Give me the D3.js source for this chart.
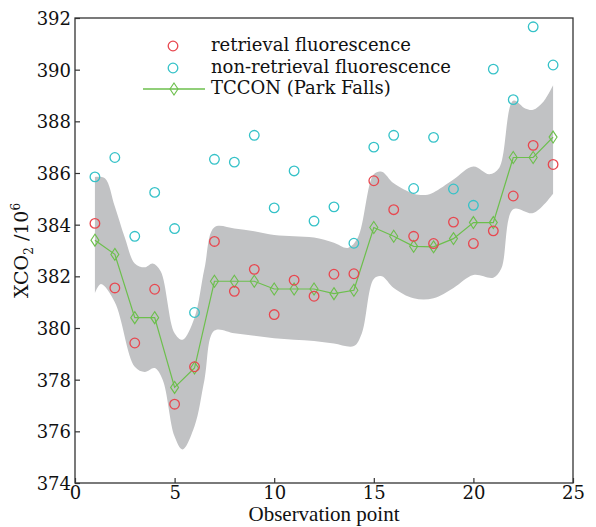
<!DOCTYPE html>
<html>
<head>
<meta charset="utf-8">
<script src="https://cdn.jsdelivr.net/npm/d3@7"></script>
<style>
  body { margin: 0; background: #fff; }
  svg text { font-family: "DejaVu Serif", "Liberation Serif", serif; fill: #111; }
  svg text.xtitle { font-family: "Liberation Serif", serif; }
</style>
</head>
<body>
<div id="chart"></div>
<script>
// observation points 1..24
var points = d3.range(1, 25);

var retrieval = [384.05, 381.55, 379.42, 381.5, 377.05, 378.5, 383.35, 381.42, 382.27, 380.52, 381.85, 381.23,
                 382.08, 382.1, 385.7, 384.58, 383.55, 383.27, 384.1, 383.27, 383.76, 385.11, 387.07, 386.33];

var nonRetrieval = [385.85, 386.6, 383.55, 385.25, 383.85, 380.6, 386.53, 386.42, 387.46, 384.65, 386.08, 384.14,
                    384.69, 383.28, 387.0, 387.46, 385.4, 387.38, 385.38, 384.75, 390.02, 388.84, 391.66, 390.18];

var tccon = [383.4, 382.85, 380.4, 380.4, 377.7, 378.45, 381.81, 381.81, 381.81, 381.51, 381.51, 381.51,
             381.33, 381.46, 383.89, 383.55, 383.16, 383.14, 383.46, 384.08, 384.08, 386.6, 386.6, 387.39];

// grey uncertainty band, edges
var bandX     = [1, 1.5, 2, 2.5, 3, 3.5, 3.9, 4.3, 5, 5.4, 6, 6.5, 7, 8, 9, 10, 11, 12, 13, 13.7, 14.2,
                 15, 15.4, 16, 17, 17.6, 18, 19, 20, 20.8, 21.3, 22, 22.6, 23, 23.5, 24];
var bandUpper = [385.85, 385.8, 384.7, 383.5, 382.5, 382.35, 382.5, 382.2, 379.8, 379.55, 380.4, 382.3, 383.9,
                 383.85, 383.75, 383.6, 383.55, 383.5, 383.3, 383.1, 383.5, 385.95, 386.05, 385.6, 385.2, 385.15,
                 385.25, 385.75, 386.25, 385.95, 386.2, 388.8, 388.5, 388.45, 388.75, 389.4];
var bandLowerX = [1, 1.3, 2, 3, 3.5, 4, 4.4, 5, 5.4, 6, 6.5, 7, 8, 9, 10, 11, 12, 13, 14, 14.4,
                  15, 15.4, 16, 17, 18, 19, 20, 21, 21.4, 22, 23, 24];
var bandLower = [381.35, 381.7, 381.0, 378.5, 378.3, 378.45, 378.0, 375.8, 375.3, 376.2, 378.0, 379.9,
                 379.8, 379.7, 379.6, 379.55, 379.5, 379.4, 379.3, 379.8, 381.9, 382.0, 381.55, 381.15,
                 381.15, 381.55, 382.05, 381.95, 382.3, 384.6, 384.45, 385.2];

var xTicks = [0, 5, 10, 15, 20, 25];
var yTicks = [374, 376, 378, 380, 382, 384, 386, 388, 390, 392];

var legendNames = ["retrieval fluorescence", "non-retrieval fluorescence", "TCCON (Park Falls)"];

var W = 596, H = 527;
var margin = { top: 18, right: 23, bottom: 44, left: 75 };
var width = W - margin.left - margin.right;
var height = H - margin.top - margin.bottom;

var red = "#e8474f", cyan = "#35c2c8", green = "#6cbf4c", grey = "#c1c2c4", axisCol = "#333";

var svg = d3.select("#chart").append("svg")
    .attr("width", W)
    .attr("height", H);

var g = svg.append("g")
    .attr("transform", `translate(${margin.left},${margin.top})`);

var x = d3.scaleLinear().domain([0, 25]).range([0, width]);
var y = d3.scaleLinear().domain([374, 392]).range([height, 0]);

// band: upper edge forward, lower edge backward
var upperPts = bandX.map((d, i) => [x(d), y(bandUpper[i])]);
var lowerPts = bandLowerX.map((d, i) => [x(d), y(bandLower[i])]);
var line = d3.line().curve(d3.curveCatmullRom.alpha(0.5));
var upperPath = line(upperPts);
var lowerPath = line(lowerPts.slice().reverse());
g.append("path")
    .attr("d", upperPath + "L" + lowerPath.slice(1) + "Z")
    .attr("fill", grey)
    .attr("stroke", "none");

// tccon line
g.append("path")
    .datum(tccon)
    .attr("fill", "none")
    .attr("stroke", green)
    .attr("stroke-width", 1.2)
    .attr("d", d3.line().x((d, i) => x(points[i])).y(d => y(d)));

function diamond(sel, cx, cy) {
    sel.append("path")
        .attr("d", `M${cx},${cy - 6}L${cx + 4},${cy}L${cx},${cy + 6}L${cx - 4},${cy}Z`)
        .attr("fill", "none")
        .attr("stroke", green)
        .attr("stroke-width", 1.1);
}
tccon.forEach((d, i) => diamond(g, x(points[i]), y(d)));

g.selectAll("circle.nr")
    .data(nonRetrieval)
    .enter().append("circle")
    .attr("class", "nr")
    .attr("cx", (d, i) => x(points[i]))
    .attr("cy", d => y(d))
    .attr("r", 4.8)
    .attr("fill", "none")
    .attr("stroke", cyan)
    .attr("stroke-width", 1.3);

g.selectAll("circle.rt")
    .data(retrieval)
    .enter().append("circle")
    .attr("class", "rt")
    .attr("cx", (d, i) => x(points[i]))
    .attr("cy", d => y(d))
    .attr("r", 4.8)
    .attr("fill", "none")
    .attr("stroke", red)
    .attr("stroke-width", 1.3);

// frame
g.append("rect")
    .attr("width", width)
    .attr("height", height)
    .attr("fill", "none")
    .attr("stroke", axisCol)
    .attr("stroke-width", 1.3);

var xAxis = g.append("g")
    .attr("transform", `translate(0,${height})`)
    .call(d3.axisBottom(x).tickValues(xTicks).tickSizeInner(-5).tickSizeOuter(0).tickPadding(3).tickFormat(d3.format("d")));
var yAxis = g.append("g")
    .call(d3.axisLeft(y).tickValues(yTicks).tickSizeInner(-5).tickSizeOuter(0).tickPadding(4).tickFormat(d3.format("d")));
[xAxis, yAxis].forEach(a => {
    a.select(".domain").remove();
    a.selectAll(".tick line").attr("stroke", axisCol).attr("stroke-width", 1.2);
    a.selectAll(".tick text").attr("font-size", 18).attr("fill", "#111");
});
xAxis.selectAll(".tick text").attr("dy", "0.72em");
yAxis.selectAll(".tick text").attr("dy", "0.36em");

// axis titles
svg.append("text")
    .attr("class", "xtitle")
    .attr("x", margin.left + width / 2)
    .attr("y", 521)
    .attr("text-anchor", "middle")
    .attr("font-size", 21)
    .text("Observation point");

var yl = svg.append("text")
    .attr("transform", `translate(28,${margin.top + height / 2}) rotate(-90)`)
    .attr("text-anchor", "middle")
    .attr("font-size", 19);
yl.append("tspan").text("XCO");
yl.append("tspan").attr("font-size", 12).attr("dy", 5).text("2");
yl.append("tspan").attr("dy", -5).text(" /10");
yl.append("tspan").attr("font-size", 12).attr("dy", -8).text("6");

// legend
var lg = svg.append("g");
var ly = [45, 67, 88];
lg.append("circle").attr("cx", 173).attr("cy", ly[0] + 1).attr("r", 4.8)
    .attr("fill", "none").attr("stroke", red).attr("stroke-width", 1.3);
lg.append("circle").attr("cx", 173).attr("cy", ly[1] + 1).attr("r", 4.8)
    .attr("fill", "none").attr("stroke", cyan).attr("stroke-width", 1.3);
lg.append("line").attr("x1", 143).attr("x2", 205).attr("y1", ly[2] + 1).attr("y2", ly[2] + 1)
    .attr("stroke", green).attr("stroke-width", 1.4);
diamond(lg, 174, ly[2] + 1);
legendNames.forEach((name, i) => {
    lg.append("text")
        .attr("x", 211)
        .attr("y", ly[i])
        .attr("dy", "0.35em")
        .attr("font-size", 18)
        .text(name);
});
</script>
</body>
</html>
